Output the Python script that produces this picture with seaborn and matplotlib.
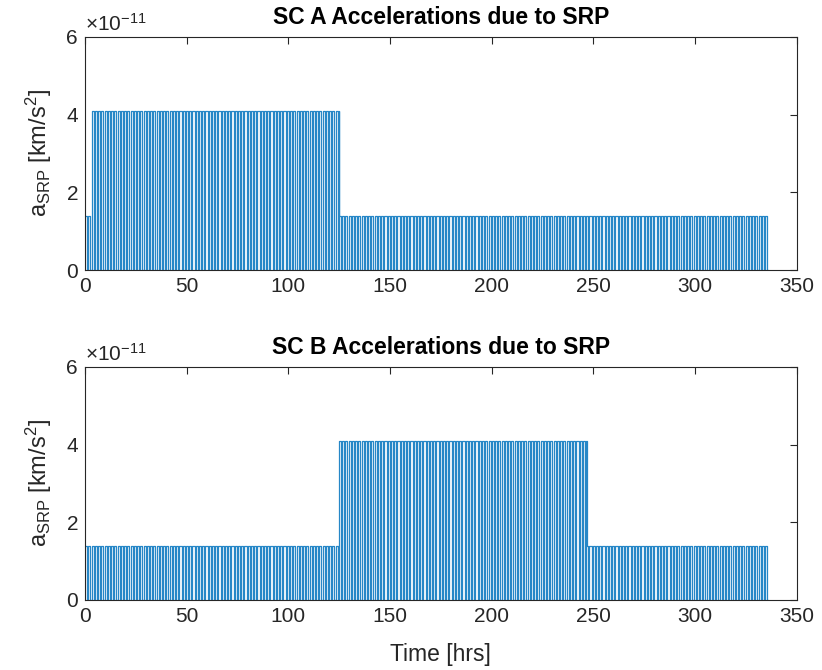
import numpy as np
import pandas as pd
import matplotlib
matplotlib.use("Agg")
import matplotlib.pyplot as plt
import seaborn as sns

# --- data ---------------------------------------------------------------
titles = ["SC A Accelerations due to SRP", "SC B Accelerations due to SRP"]
# segments: (start_hr, end_hr, sunlit acceleration km/s^2)
seg_a_start = [0.0, 3.5, 125.0]
seg_a_end = [3.5, 125.0, 336.0]
seg_a_level = [1.4e-11, 4.1e-11, 1.4e-11]
seg_b_start = [0.0, 125.0, 247.0]
seg_b_end = [125.0, 247.0, 336.0]
seg_b_level = [1.4e-11, 4.1e-11, 1.4e-11]
orbit_period_hr = 1.6      # orbit period
eclipse_hr = 0.55          # eclipse duration per orbit
xticks = [0, 50, 100, 150, 200, 250, 300, 350]
yticks = [0, 2e-11, 4e-11, 6e-11]
ytick_labels = ["0", "2", "4", "6"]


def build_series(starts, ends, levels):
    t_end = ends[-1]
    times, vals = [], []
    k = 0
    while True:
        t0 = k * orbit_period_hr
        if t0 >= t_end:
            break
        t_ecl = t0 + orbit_period_hr - eclipse_hr
        t1 = min(t0 + orbit_period_hr, t_end)
        cuts = [t0] + [s for s in starts if t0 < s < min(t_ecl, t1)] + [min(t_ecl, t1)]
        for a, b in zip(cuts[:-1], cuts[1:]):
            lvl = next(l for s, e, l in zip(starts, ends, levels) if s <= a < e)
            times += [a, b]
            vals += [lvl, lvl]
        if t_ecl < t1:
            times += [t_ecl, t1]
            vals += [0.0, 0.0]
        k += 1
    return pd.DataFrame({"t": times, "a": vals})


df_a = build_series(seg_a_start, seg_a_end, seg_a_level)
df_b = build_series(seg_b_start, seg_b_end, seg_b_level)

# --- plotting -----------------------------------------------------------
sns.set_theme(style="white")
plt.rcParams["font.family"] = ["Liberation Sans", "DejaVu Sans"]
plt.rcParams["mathtext.fontset"] = "custom"
plt.rcParams["mathtext.rm"] = "Liberation Sans"
plt.rcParams["mathtext.it"] = "Liberation Sans"

fig = plt.figure(figsize=(8.22, 6.70), dpi=100)
ax_a = fig.add_axes([0.1034, 0.597, 0.866, 0.348])
ax_b = fig.add_axes([0.1034, 0.1045, 0.866, 0.348])

blue = "#0072BD"
txt = "#262626"
for ax, df, title in [(ax_a, df_a, titles[0]), (ax_b, df_b, titles[1])]:
    sns.lineplot(data=df, x="t", y="a", ax=ax, color=blue, linewidth=0.9,
                 alpha=0.85, estimator=None, sort=False, legend=False)
    ax.set_xlim(0, 350)
    ax.set_ylim(0, 6e-11)
    ax.set_xticks(xticks)
    ax.set_yticks(yticks)
    ax.set_yticklabels(ytick_labels)
    ax.tick_params(direction="in", length=5, width=0.8, labelsize=15,
                   colors=txt, top=True, right=True, pad=5)
    for sp in ax.spines.values():
        sp.set_color(txt)
        sp.set_linewidth(0.8)
    ax.set_title(title, fontsize=16.5, fontweight="bold", color="black", pad=9)
    ax.set_ylabel(r"a$_{\mathrm{SRP}}$ [km/s$^{2}$]", fontsize=17, color=txt,
                  labelpad=9)
    ax.set_xlabel("")
    ax.text(0.0, 1.01, r"$\times 10^{-11}$", transform=ax.transAxes,
            fontsize=15, color=txt, ha="left", va="bottom")

ax_b.set_xlabel("Time [hrs]", fontsize=16.5, color=txt, labelpad=12)

fig.savefig("out.png", dpi=100, facecolor="white")
